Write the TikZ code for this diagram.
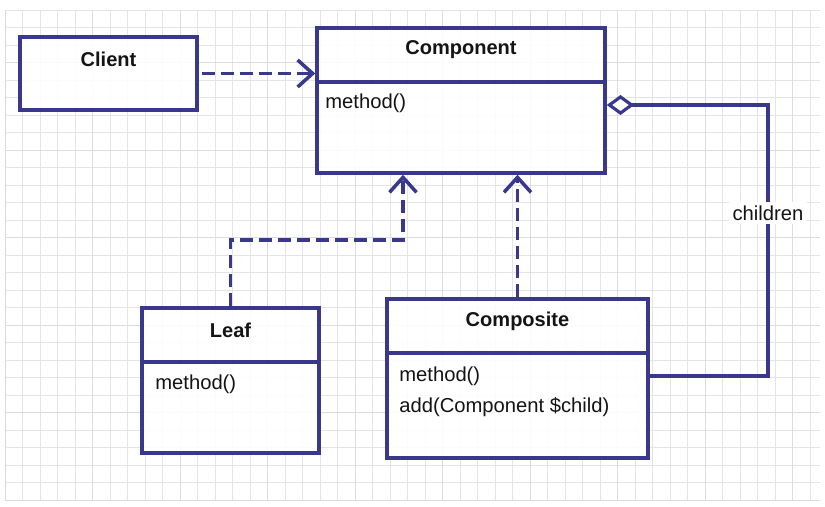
\documentclass[tikz,border=0pt]{standalone}
\usepackage{fontspec}
\setmainfont{Liberation Sans}
\usetikzlibrary{arrows.meta}
\definecolor{umlblue}{RGB}{58,56,140}
\definecolor{gridgray}{RGB}{228,228,232}
\definecolor{textgray}{RGB}{20,20,20}
\begin{document}
\begin{tikzpicture}[
        classbox/.style = {draw = umlblue, line width = 2pt, fill = white, fill opacity = .9, inner sep = 0},
        divider/.style = {umlblue, line width = 2pt},
        classname/.style = {font = \fontsize{11.4}{13}\selectfont\bfseries, text = textgray},
        member/.style = {font = \fontsize{11.5}{13}\selectfont, text = textgray, anchor = west, inner sep = 0},
        dep/.style = {umlblue, line width = 2pt, dash pattern = on .26cm off .12cm,
            -{Straight Barb[length = .3cm, width = .54cm, line width = 2pt]}},
        agg/.style = {umlblue, line width = 2pt,
            {Diamond[length = .55cm, width = .4cm, fill = white, line width = 1.8pt]}-},
        rolelabel/.style = {font = \fontsize{11.5}{13}\selectfont, text = textgray, fill = white, inner sep = 2pt}
    ]
        \useasboundingbox (0, 0) rectangle (16.5, 10.14);
        % background grid
        \draw [gridgray, line width = .4pt, shift = {(.1, .14)}] (0, 0) grid [step = .35] (16.3, 9.8);
        \draw [gridgray!92!gray, line width = .4pt, shift = {(.1, .14)}] (0, 0) grid [step = 1.75] (16.3, 9.8);

        % classes
        \node [classbox, minimum width = 3.54cm, minimum height = 1.46cm] (client) at (2.17, 8.67) {};
        \node [classname] (clienttitle) at (2.17, 8.96) {Client};

        \node [classbox, minimum width = 5.76cm, minimum height = 2.9cm] (comp) at (9.22, 8.13) {};
        \draw [divider] (comp.west |- 0, 8.5) -- (comp.east |- 0, 8.5);
        \node [classname] (comptitle) at (9.22, 9.14) {Component};
        \node [member] (compmethod) at (6.5, 8.08) {method()};

        \node [classbox, minimum width = 3.54cm, minimum height = 2.9cm] (leaf) at (4.61, 2.53) {};
        \draw [divider] (leaf.west |- 0, 2.9) -- (leaf.east |- 0, 2.9);
        \node [classname] (leaftitle) at (4.61, 3.54) {Leaf};
        \node [member] (leafmethod) at (3.1, 2.46) {method()};

        \node [classbox, minimum width = 5.22cm, minimum height = 3.18cm] (compo) at (10.35, 2.57) {};
        \draw [divider] (compo.west |- 0, 3.08) -- (compo.east |- 0, 3.08);
        \node [classname] (compotitle) at (10.35, 3.72) {Composite};
        \node [member] (compomethod) at (7.98, 2.62) {method()};
        \node [member] (compoadd) at (7.98, 2.0) {add(Component \$child)};

        % relations
        \coordinate (bend) at (8.06, 5.34);
        \coordinate (aggtop) at (15.36, 8.04);
        \coordinate (aggbot) at (15.36, 2.62);
        \draw [dep] ([xshift = .06cm] client.east) -- (comp.west |- client.east);
        \draw [dep] (leaf.north) |- (bend) -- (bend |- comp.south);
        \draw [dep] (compo.north) -- (compo.north |- comp.south);
        \draw [agg] (aggtop -| comp.east) -- (aggtop) -- (aggbot) -- (aggbot -| compo.east);
        \node [rolelabel] (children) at (15.36, 5.88) {children};
    \end{tikzpicture}
\end{document}
